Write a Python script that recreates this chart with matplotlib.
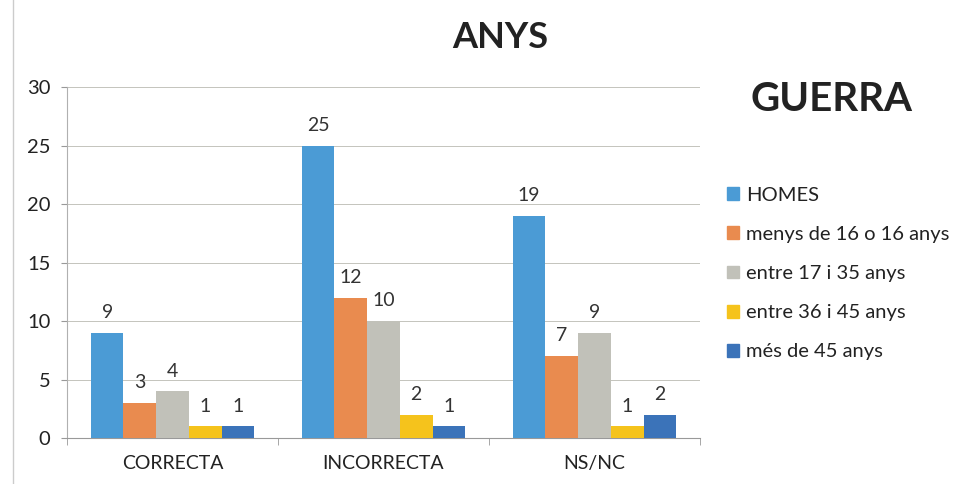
import numpy as np
import matplotlib.pyplot as plt
from matplotlib.patches import Patch

categories = ['CORRECTA', 'INCORRECTA', 'NS/NC']
series = ['HOMES', 'menys de 16 o 16 anys', 'entre 17 i 35 anys',
          'entre 36 i 45 anys', 'més de 45 anys']
values = [
    [9, 25, 19],
    [3, 12, 7],
    [4, 10, 9],
    [1, 2, 1],
    [1, 1, 2],
]
colors = ['#4b9bd5', '#e98b4f', '#c1c1b9', '#f5c31c', '#3b73b9']

plt.rcParams['font.family'] = ['Lato', 'DejaVu Sans']

fig = plt.figure(figsize=(9.73, 4.84), dpi=100)
ax = fig.add_axes([0.0689, 0.095, 0.6505, 0.725])

x = np.arange(len(categories))
n = len(series)
w = 0.155
for i, (name, vals) in enumerate(zip(series, values)):
    pos = x + (i - (n - 1) / 2) * w
    bars = ax.bar(pos, vals, w, color=colors[i], label=name, zorder=3)
    for b, v in zip(bars, vals):
        ax.text(b.get_x() + b.get_width() / 2, v + 1.0, str(v),
                ha='center', va='bottom', fontsize=14, color='#333333')

ax.set_xlim(-0.5, 2.5)
ax.set_ylim(0, 30)
ax.set_yticks(range(0, 31, 5))
ax.set_xticks(x)
ax.set_xticklabels(categories, fontsize=14, color='#222222')
ax.set_xticks([-0.5, 0.5, 1.5, 2.5], minor=True)
ax.tick_params(axis='x', which='major', length=0, pad=12)
ax.tick_params(axis='x', which='minor', length=5, color='#999999')
ax.tick_params(axis='y', length=4, color='#999999', labelsize=14.5,
               labelcolor='#222222', pad=8)
ax.grid(axis='y', color='#c4c4bc', linewidth=0.7, zorder=0)
for s in ['top', 'right']:
    ax.spines[s].set_visible(False)
ax.spines['left'].set_color('#b0b0b0')
ax.spines['bottom'].set_color('#999999')

fig.text(0.514, 0.922, 'ANYS', ha='center', va='center',
         fontsize=26, fontweight='bold', color='#222222')
fig.text(0.855, 0.795, 'GUERRA', ha='center', va='center',
         fontsize=29, fontweight='bold', color='#222222')

handles = [Patch(color=c, label=s) for c, s in zip(colors, series)]
fig.legend(handles=handles, loc='upper left', bbox_to_anchor=(0.747, 0.614),
           frameon=False, fontsize=14.5, handlelength=0.6, handleheight=0.6,
           handletextpad=0.35, labelspacing=1.1, labelcolor='#222222',
           borderaxespad=0, borderpad=0)

fig.add_artist(plt.Line2D([0.013, 0.013], [0.0, 1.0], color='#cccccc',
                          linewidth=1, transform=fig.transFigure))

fig.savefig('out.png', dpi=100)
